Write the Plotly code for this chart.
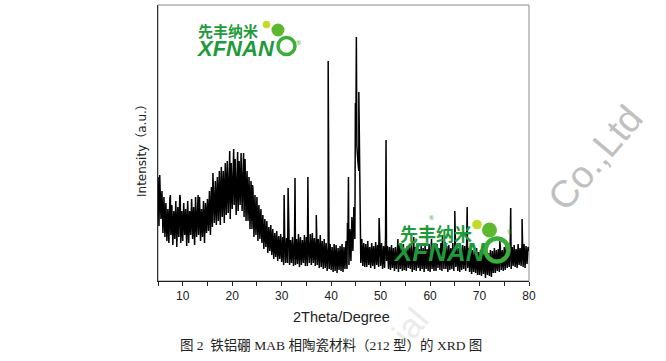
import plotly.graph_objects as go

# ---------------- data ----------------
scan_start = 5.0      # degrees 2theta
scan_step = 0.2       # degrees
# background / noise band of the scan, one value per step from 5.0 to 80.0
base_intensity = [
    104, 55, 96, 62, 90,     # 5
    48, 84, 44, 78, 40,      # 6
    72, 38, 82, 46, 76,      # 7
    36, 70, 42, 80, 34,      # 8
    74, 44, 86, 38, 70,      # 9
    40, 78, 46, 72, 35,      # 10
    80, 38, 70, 46, 82,      # 11
    42, 74, 36, 84, 44,      # 12
    76, 46, 84, 40, 72,      # 13
    44, 80, 38, 78, 48,      # 14
    82, 50, 90, 46, 94,      # 15
    54, 92, 58, 100, 56,     # 16
    104, 60, 110, 56, 114,   # 17
    64, 110, 58, 118, 66,    # 18
    120, 68, 126, 62, 118,   # 19
    72, 128, 76, 122, 66,    # 20
    127, 70, 120, 76, 128,   # 21
    70, 118, 64, 122, 60,    # 22
    110, 60, 104, 52, 100,   # 23
    52, 92, 44, 86, 46,      # 24
    84, 40, 76, 42, 72,      # 25
    38, 66, 32, 62, 34,      # 26
    60, 28, 54, 30, 56,      # 27
    26, 52, 22, 48, 24,      # 28
    50, 20, 45, 22, 47,      # 29
    19, 44, 16, 46, 18,      # 30
    43, 18, 46, 16, 41,      # 31
    18, 44, 15, 40, 16,      # 32
    42, 17, 47, 14, 44,      # 33
    16, 41, 18, 46, 15,      # 34
    44, 15, 40, 18, 47,      # 35
    16, 48, 18, 43, 15,      # 36
    45, 16, 42, 13, 46,      # 37
    14, 40, 12, 42, 13,      # 38
    38, 10, 35, 12, 37,      # 39
    11, 34, 9, 37, 10,       # 40
    36, 8, 33, 11, 35,       # 41
    10, 37, 9, 34, 12,       # 42
    40, 12, 44, 16, 52,      # 43
    20, 64, 30, 74, 42,      # 44
    150, 135, 120, 110, 75,  # 45
    18, 42, 15, 38, 14,      # 46
    37, 14, 40, 16, 34,      # 47
    13, 38, 15, 35, 12,      # 48
    39, 16, 36, 14, 41,      # 49
    15, 38, 12, 35, 13,      # 50
    44, 20, 35, 12, 34,      # 51
    11, 36, 13, 33, 10,      # 52
    34, 12, 31, 9, 36,       # 53
    12, 35, 10, 37, 11,      # 54
    32, 10, 35, 13, 34,      # 55
    12, 37, 9, 33, 11,       # 56
    34, 10, 36, 13, 32,      # 57
    10, 35, 12, 33, 9,       # 58
    36, 12, 32, 10, 37,      # 59
    9, 34, 12, 31, 10,       # 60
    35, 10, 37, 13, 33,      # 61
    11, 38, 10, 34, 12,      # 62
    39, 12, 35, 9, 36,       # 63
    11, 33, 12, 38, 10,      # 64
    36, 14, 34, 10, 33,      # 65
    9, 32, 11, 36, 12,       # 66
    35, 10, 38, 13, 33,      # 67
    9, 34, 7, 31, 9,         # 68
    30, 8, 33, 6, 29,        # 69
    6, 31, 5, 33, 7,         # 70
    27, 3, 30, 6, 28,        # 71
    5, 31, 4, 30, 8,         # 72
    33, 8, 31, 10, 32,       # 73
    9, 35, 11, 31, 10,       # 74
    34, 11, 36, 13, 32,      # 75
    14, 37, 12, 34, 15,      # 76
    36, 14, 32, 13, 37,      # 77
    16, 33, 15, 39, 14,      # 78
    37, 13, 35, 17, 34,      # 79
    30,                      # 80
]

# sharp reflections and noise spikes
peak_2theta = [5.35, 7.5, 9.5, 13.1, 16.1, 19.5, 20.3, 21.1, 22.3, 24.1,
               30.5, 31.3, 32.7, 35.3, 37.0, 39.4, 43.3, 43.5, 44.9, 45.1,
               45.6, 49.7, 51.1, 53.5, 56.7, 60.3, 62.5, 65.0, 67.5, 74.1,
               76.3, 78.6]
peak_intensity = [106, 86, 84, 86, 108, 130, 132, 129, 128, 96,
                  86, 93, 103, 104, 66, 220, 58, 104, 178, 244,
                  189, 63, 141, 42, 44, 42, 46, 70, 74, 40,
                  73, 62]

tick_values = [5, 10, 15, 20, 25, 30, 35, 40, 45, 50, 55, 60, 65, 70, 75, 80]
tick_labels = ["", "10", "", "20", "", "30", "", "40", "", "50", "", "60", "", "70", "", "80"]

caption = "图 2  铁铝硼 MAB 相陶瓷材料（212 型）的 XRD 图"

# ---------------- build trace ----------------
base_2theta = [round(scan_start + i * scan_step, 2) for i in range(len(base_intensity))]
points = sorted(list(zip(base_2theta, base_intensity)) + list(zip(peak_2theta, peak_intensity)))
xs = [p[0] for p in points]
ys = [p[1] for p in points]

fig = go.Figure()
fig.add_trace(go.Scatter(x=xs, y=ys, mode="lines",
                         line=dict(color="black", width=1.5),
                         hoverinfo="skip", showlegend=False))

# plot area in pixels
L, R, T, B = 158, 529, 5, 281
W, H = 666, 361


def px(x):
    return (x - L) / (R - L)


def py(y):
    return (B - y) / (B - T)


shapes = []
annotations = []

# grey frame (top / right)
shapes.append(dict(type="rect", xref="paper", yref="paper", x0=0, x1=1, y0=0, y1=1,
                   line=dict(color="#8a8a8a", width=1), layer="below"))


def logo(cx_text, cy_cn, cy_en, size_cn, size_en, ring_c, ring_r, ring_w,
         dot1, dot2, reg1, reg2):
    annotations.append(dict(xref="paper", yref="paper", x=px(cx_text[0]), y=py(cy_cn),
                            text="先丰纳米", showarrow=False, xanchor="center", yanchor="middle",
                            font=dict(family="Noto Sans CJK SC", size=size_cn, color="#1e9a3a",
                                      weight="bold")))
    annotations.append(dict(xref="paper", yref="paper", x=px(cx_text[1]), y=py(cy_en),
                            text="XFNAN", showarrow=False, xanchor="center", yanchor="middle",
                            font=dict(family="Liberation Sans", size=size_en, color="#1e9a3a",
                                      weight="bold", style="italic")))
    cx, cy = ring_c
    shapes.append(dict(type="circle", xref="paper", yref="paper",
                       x0=px(cx - ring_r), x1=px(cx + ring_r), y0=py(cy + ring_r), y1=py(cy - ring_r),
                       line=dict(color="#3aae36", width=ring_w), layer="above"))
    for (dx, dy, r, col) in (dot1, dot2):
        shapes.append(dict(type="circle", xref="paper", yref="paper",
                           x0=px(dx - r), x1=px(dx + r), y0=py(dy + r), y1=py(dy - r),
                           fillcolor=col, line=dict(width=0), layer="above"))
    for (rx, ry) in (reg1, reg2):
        annotations.append(dict(xref="paper", yref="paper", x=px(rx), y=py(ry), text="®",
                                showarrow=False, font=dict(size=6, color="#3aae36")))


logo((228, 235), 31, 48, 15, 22, (286.5, 46), 8.5, 3.5,
     (266.5, 24.5, 3.8, "#c2da2a"), (278, 30, 6.5, "#5cb82e"), (229, 24), (298, 37))
logo((436, 439), 233, 252, 18, 26, (497, 250), 11.5, 4.5,
     (477, 224.5, 4.8, "#c2da2a"), (489.5, 230, 7.5, "#5cb82e"), (436, 224), (514, 238))

# watermark text
annotations.append(dict(xref="paper", yref="paper", x=px(595), y=py(158), text="Co.,Ltd",
                        showarrow=False, textangle=-50, xanchor="center", yanchor="middle",
                        font=dict(family="Liberation Sans", size=38, color="#c0c0c0")))
annotations.append(dict(xref="paper", yref="paper", x=px(410), y=py(326), text="ial",
                        showarrow=False, textangle=-50, xanchor="center", yanchor="middle",
                        font=dict(family="Liberation Sans", size=34, color="#ebebeb")))

# axis titles & caption
annotations.append(dict(xref="paper", yref="paper", x=px(142), y=py(148),
                        text="Intensity（a.u.）", showarrow=False, textangle=-90,
                        xanchor="center", yanchor="middle",
                        font=dict(family="DejaVu Sans, Noto Sans CJK SC", size=12, color="#222")))
annotations.append(dict(xref="paper", yref="paper", x=px(341), y=py(317),
                        text="2Theta/Degree", showarrow=False, xanchor="center", yanchor="middle",
                        font=dict(family="Liberation Sans", size=14.5, color="#222")))
annotations.append(dict(xref="paper", yref="paper", x=px(331), y=py(345),
                        text=caption, showarrow=False, xanchor="center", yanchor="middle",
                        font=dict(family="Liberation Serif, Noto Sans CJK SC", size=13.5, color="#222")))

fig.update_layout(
    width=W, height=H,
    margin=dict(l=L, r=W - R, t=T, b=H - B),
    paper_bgcolor="white", plot_bgcolor="white",
    shapes=shapes, annotations=annotations,
    xaxis=dict(range=[5, 80], tickvals=tick_values, ticktext=tick_labels,
               ticks="outside", ticklen=4, tickcolor="#222", tickwidth=1,
               showline=True, linecolor="#222", linewidth=1, mirror=False,
               showgrid=False, zeroline=False,
               tickfont=dict(family="Liberation Sans", size=12, color="#222")),
    yaxis=dict(range=[0, 276], showticklabels=False, ticks="",
               showline=True, linecolor="#333", linewidth=1, mirror=False,
               showgrid=False, zeroline=False),
)

fig.write_html("out.html", config={"displayModeBar": False},
               post_script="document.body.style.margin='0';")
